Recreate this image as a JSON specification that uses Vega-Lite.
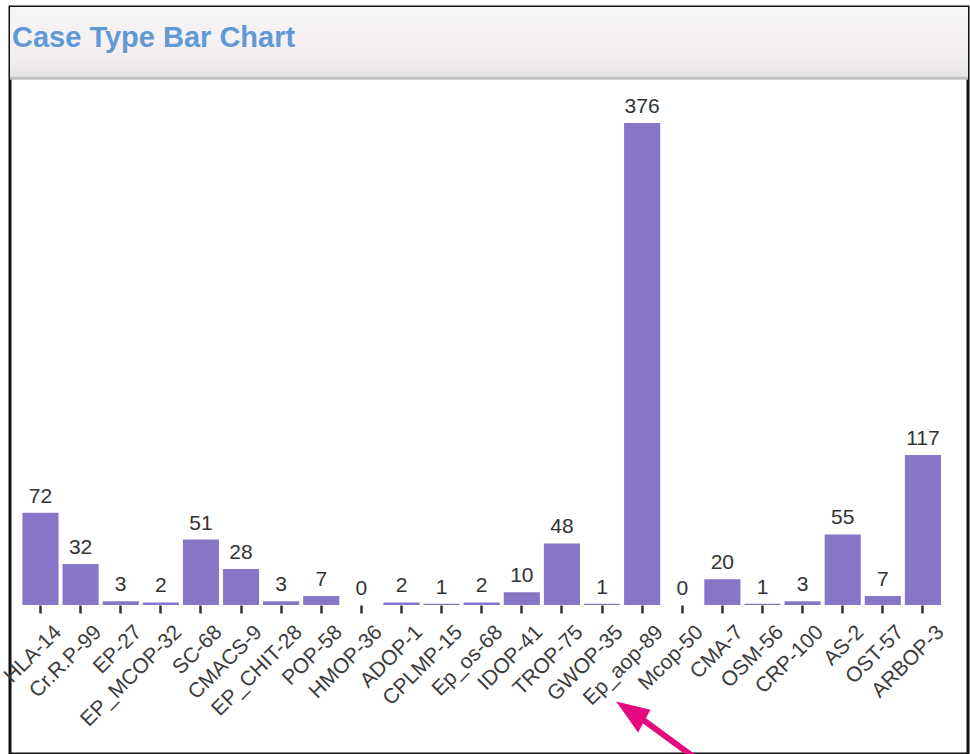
{
  "$schema": "https://vega.github.io/schema/vega-lite/v6.json",
  "width": 958,
  "height": 747,
  "autosize": {"type": "none"},
  "padding": {"left": 10, "top": 7, "right": 2, "bottom": 0},
  "background": "white",
  "config": {
    "view": {"stroke": "#111111", "strokeWidth": 3},
    "axis": {"grid": false}
  },
  "title": {
    "text": "Case Type Bar Chart",
    "anchor": "start",
    "frame": "group",
    "offset": -69,
    "baseline": "alphabetic",
    "dx": 2,
    "font": "Liberation Sans",
    "fontSize": 29,
    "fontWeight": "bold",
    "color": "#6199d6",
    "zindex": 1
  },
  "data": {
    "values": [
      {"type": "HLA-14", "count": 72},
      {"type": "Cr.R.P-99", "count": 32},
      {"type": "EP-27", "count": 3},
      {"type": "EP_MCOP-32", "count": 2},
      {"type": "SC-68", "count": 51},
      {"type": "CMACS-9", "count": 28},
      {"type": "EP_CHIT-28", "count": 3},
      {"type": "POP-58", "count": 7},
      {"type": "HMOP-36", "count": 0},
      {"type": "ADOP-1", "count": 2},
      {"type": "CPLMP-15", "count": 1},
      {"type": "Ep_os-68", "count": 2},
      {"type": "IDOP-41", "count": 10},
      {"type": "TROP-75", "count": 48},
      {"type": "GWOP-35", "count": 1},
      {"type": "Ep_aop-89", "count": 376},
      {"type": "Mcop-50", "count": 0},
      {"type": "CMA-7", "count": 20},
      {"type": "OSM-56", "count": 1},
      {"type": "CRP-100", "count": 3},
      {"type": "AS-2", "count": 55},
      {"type": "OST-57", "count": 7},
      {"type": "ARBOP-3", "count": 117}
    ]
  },
  "layer": [
    {
      "data": {"values": [{}]},
      "mark": {
        "type": "rect",
        "color": {
          "gradient": "linear",
          "x1": 0, "y1": 0, "x2": 0, "y2": 1,
          "stops": [
            {"offset": 0, "color": "#f5f5f7"},
            {"offset": 0.55, "color": "#f6f0f2"},
            {"offset": 0.8, "color": "#efebed"},
            {"offset": 1, "color": "#e2e2e2"}
          ]
        }
      },
      "encoding": {
        "y": {"datum": 411, "type": "quantitative", "scale": {"domain": [-116.23, 466.49], "zero": false, "nice": false}, "axis": null},
        "y2": {"datum": 466.49}
      }
    },
    {
      "data": {"values": [{}]},
      "mark": {"type": "rule", "color": "#c2c2c2", "strokeWidth": 3},
      "encoding": {
        "y": {"datum": 411, "type": "quantitative", "scale": {"domain": [-116.23, 466.49], "zero": false, "nice": false}, "axis": null}
      }
    },
    {
      "mark": {"type": "bar", "color": "#8775c8"},
      "encoding": {
        "x": {
          "field": "type",
          "type": "nominal",
          "sort": null,
          "scale": {"paddingInner": 0.1, "paddingOuter": 0.492, "align": 0.315},
          "axis": {
            "title": null,
            "orient": "bottom",
            "offset": -149,
            "labelAngle": -45,
            "labelFont": "Liberation Sans",
            "labelFontSize": 21,
            "labelColor": "#3c3c3c",
            "labelOverlap": false,
            "labelPadding": 8,
            "labelOffset": 10,
            "labelLimit": 300,
            "domain": false,
            "ticks": true,
            "tickColor": "#333333",
            "tickSize": 8,
            "tickWidth": 2.5
          }
        },
        "y": {"field": "count", "type": "quantitative", "scale": {"domain": [-116.23, 466.49], "zero": false, "nice": false}, "axis": null},
        "y2": {"datum": 0}
      }
    },
    {
      "mark": {"type": "text", "baseline": "alphabetic", "dy": -10, "font": "Liberation Sans", "fontSize": 21, "color": "#333333"},
      "encoding": {
        "x": {"field": "type", "type": "nominal", "sort": null},
        "y": {"field": "count", "type": "quantitative", "scale": {"domain": [-116.23, 466.49], "zero": false, "nice": false}, "axis": null},
        "text": {"field": "count", "type": "quantitative"}
      }
    },
    {
      "data": {"values": [{}]},
      "mark": {"type": "rule", "color": "#e5087f", "strokeWidth": 6},
      "encoding": {
        "x": {"datum": "Ep_aop-89", "type": "nominal"},
        "x2": {"datum": "CMA-7"},
        "y": {"datum": -89, "type": "quantitative", "scale": {"domain": [-116.23, 466.49], "zero": false, "nice": false}, "axis": null},
        "y2": {"datum": -135}
      }
    },
    {
      "data": {"values": [{}]},
      "mark": {"type": "point", "shape": "M -1 -0.72 L 0.83 -0.28 L 0.17 0.94 Z", "filled": true, "color": "#e5087f", "size": 1400, "opacity": 1},
      "encoding": {
        "x": {"datum": "Ep_aop-89", "type": "nominal", "bandPosition": 0.3},
        "y": {"datum": -85.8, "type": "quantitative", "scale": {"domain": [-116.23, 466.49], "zero": false, "nice": false}, "axis": null}
      }
    }
  ]
}
